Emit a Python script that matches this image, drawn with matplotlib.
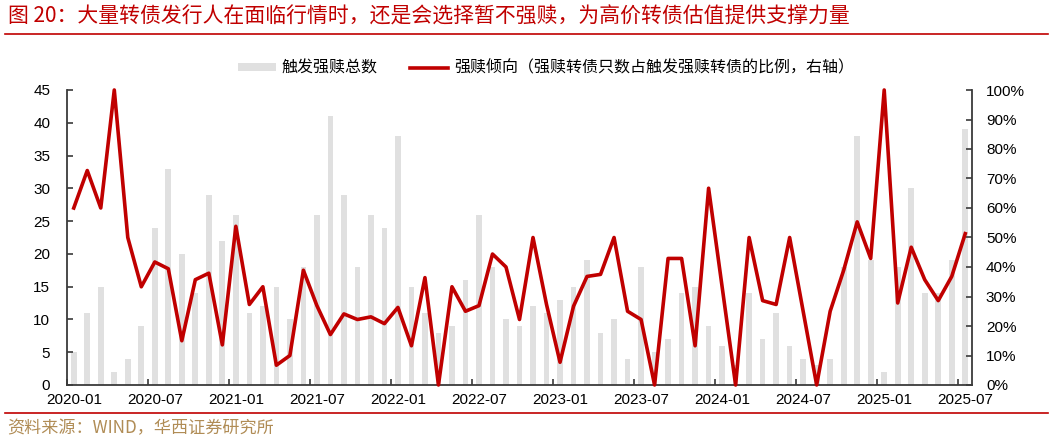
import numpy as np
import pandas as pd
import matplotlib
matplotlib.use('Agg')
import matplotlib.pyplot as plt
from matplotlib.patches import Patch
from matplotlib.lines import Line2D
from matplotlib.ticker import PercentFormatter, MultipleLocator

plt.rcParams['font.family'] = ['Liberation Sans', 'Noto Sans CJK SC', 'DejaVu Sans']
CJK = ['Noto Sans CJK SC', 'DejaVu Sans']

# monthly categories 2020-01 .. 2025-07
months = pd.period_range('2020-01', '2025-07', freq='M').strftime('%Y-%m').tolist()

# 触发强赎总数 (left axis)
triggered = [5, 11, 15, 2, 4, 9, 24, 33, 20, 14,
             29, 22, 26, 11, 12, 15, 10, 18, 26, 41,
             29, 18, 26, 24, 38, 15, 11, 8, 9, 16,
             26, 18, 10, 9, 12, 11, 13, 15, 19, 8,
             10, 4, 18, 5, 7, 14, 15, 9, 6, 3,
             14, 7, 11, 6, 4, 3, 4, 18, 38, 19,
             2, 18, 30, 14, 14, 19, 39]

# 强赎倾向 in % (right axis)
ratio = [60.0, 72.7, 60.0, 100.0, 50.0, 33.3, 41.7, 39.4, 15.0, 35.7,
         37.9, 13.6, 53.8, 27.3, 33.3, 6.7, 10.0, 38.9, 26.9, 17.1,
         24.1, 22.2, 23.1, 20.8, 26.3, 13.3, 36.4, 0.0, 33.3, 25.0,
         26.9, 44.4, 40.0, 22.2, 50.0, 27.3, 7.7, 26.7, 36.8, 37.5,
         50.0, 25.0, 22.2, 0.0, 42.9, 42.9, 13.3, 66.7, 33.3, 0.0,
         50.0, 28.6, 27.3, 50.0, 25.0, 0.0, 25.0, 38.9, 55.3, 42.9,
         100.0, 27.8, 46.7, 35.7, 28.6, 36.8, 51.3]

bar_label = '触发强赎总数'
line_label = '强赎倾向（强赎转债只数占触发强赎转债的比例，右轴）'
title = '图 20：大量转债发行人在面临行情时，还是会选择暂不强赎，为高价转债估值提供支撑力量'
source = '资料来源：WIND，华西证券研究所'

RED = '#C00000'
GRAY = '#E0E0E0'
SPINE = '#3a3a3a'

W, H = 1053, 442
fig = plt.figure(figsize=(W / 100, H / 100), dpi=100)
ax = fig.add_axes([67 / W, 1 - 385 / H, (972 - 67) / W, (385 - 90) / H])
ax2 = ax.twinx()

x = np.arange(len(months))
ax.bar(x, triggered, width=0.42, color=GRAY, zorder=1)
ax2.plot(x, np.array(ratio) / 100, color=RED, lw=2.6, clip_on=False, zorder=3)

ax.set_xlim(-0.5, len(months) - 0.5)
ax.set_ylim(0, 45)
ax.yaxis.set_major_locator(MultipleLocator(5))
ax2.set_ylim(0, 1)
ax2.yaxis.set_major_locator(MultipleLocator(0.1))
ax2.yaxis.set_major_formatter(PercentFormatter(1.0, decimals=0))

# tick marks at period boundaries, labels centred on the month
idx = np.arange(0, len(months), 6)
ax.set_xticks(idx - 0.5)
ax.set_xticklabels([])
ax.set_xticks(idx, minor=True)
ax.set_xticklabels([months[i] for i in idx], minor=True)
ax.tick_params(axis='x', which='minor', length=0, pad=6, labelsize=11)
ax.tick_params(axis='x', which='major', direction='in', length=4, width=1.2, color=SPINE)
ax.tick_params(axis='y', direction='in', length=4, width=1.2, color=SPINE, pad=12, labelsize=11)
ax2.tick_params(axis='y', direction='in', length=4, width=1.2, color=SPINE, pad=10, labelsize=11)

for a in (ax, ax2):
    a.spines['top'].set_visible(False)
    for s in ('left', 'right', 'bottom'):
        a.spines[s].set_color(SPINE)
        a.spines[s].set_linewidth(1.3)
ax.spines['right'].set_visible(False)
ax2.spines['left'].set_visible(False)
ax2.spines['bottom'].set_visible(False)

handles = [Patch(facecolor=GRAY, edgecolor='none'), Line2D([], [], color=RED, lw=2.6)]
fig.legend(handles, [bar_label, line_label], loc='center left',
           bbox_to_anchor=(238 / W, 1 - 68 / H), bbox_transform=fig.transFigure,
           ncol=2, frameon=False, borderpad=0, borderaxespad=0,
           handlelength=2.4, handleheight=0.45, handletextpad=0.35, columnspacing=2.0,
           prop={'family': CJK, 'size': 11.5})

# title and source
fig.text(8 / W, 1 - 17 / H, title, color=RED, fontsize=15, va='center', ha='left', family=CJK)
fig.add_artist(Line2D([5 / W, 1048 / W], [1 - 34 / H] * 2, color=RED, lw=1.2))
fig.add_artist(Line2D([5 / W, 1048 / W], [1 - 413 / H] * 2, color=RED, lw=1.2))
fig.text(7 / W, 1 - 428 / H, source, color='#B08C55', fontsize=12.3, va='center', ha='left', family=CJK)

fig.savefig('out.png', dpi=100)
